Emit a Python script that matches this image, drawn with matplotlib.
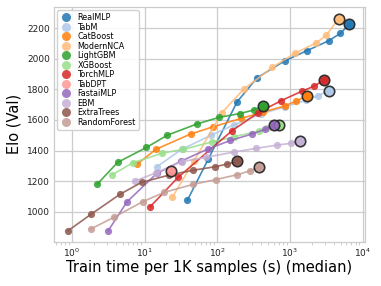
import matplotlib
matplotlib.use("Agg")
import matplotlib.pyplot as plt
from matplotlib.lines import Line2D
import numpy as np

methods = ["RealMLP", "TabM", "CatBoost", "ModernNCA", "LightGBM", "XGBoost",
           "TorchMLP", "TabDPT", "FastaiMLP", "EBM", "ExtraTrees", "RandomForest"]
colors = ["#1f77b4", "#aec7e8", "#ff7f0e", "#ffbb78", "#2ca02c", "#98df8a",
          "#d62728", "#ff9896", "#9467bd", "#c5b0d5", "#8c564b", "#c49c94"]

realmlp_x = [39, 75, 188, 352, 849, 1727, 3410, 4930, 6607]
realmlp_y = [1076, 1342, 1719, 1875, 1987, 2054, 2118, 2166, 2227]
tabm_x = [14.8, 32.4, 83, 169, 400, 849, 1640, 2455, 3410]
tabm_y = [1294, 1408, 1501, 1567, 1640, 1685, 1728, 1760, 1789]
catboost_x = [8.0, 14.3, 43, 87, 213, 430, 849, 1199, 1695]
catboost_y = [1312, 1408, 1508, 1555, 1610, 1652, 1692, 1722, 1756]
modernnca_x = [24, 48, 116, 233, 575, 1161, 2317, 3177, 4677]
modernnca_y = [1093, 1333, 1648, 1803, 1944, 2035, 2105, 2155, 2262]
lightgbm_x = [2.24, 4.28, 10.6, 20.7, 52, 106, 205, 317, 432]
lightgbm_y = [1181, 1323, 1420, 1501, 1573, 1617, 1642, 1665, 1690]
xgboost_x = [3.55, 6.9, 17.3, 34, 86, 171, 371, 490, 709]
xgboost_y = [1240, 1320, 1382, 1408, 1457, 1490, 1527, 1545, 1566]
torchmlp_x = [12, 29, 160, 369, 748, 1476, 2178, 2917]
torchmlp_y = [1033, 1225, 1530, 1648, 1725, 1789, 1822, 1861]
tabdpt_x = [23]
tabdpt_y = [1268]
fastaimlp_x = [3.17, 5.75, 14.8, 32, 75, 152, 301, 457, 607]
fastaimlp_y = [876, 1065, 1251, 1331, 1411, 1466, 1508, 1539, 1567]
ebm_x = [7.3, 14.5, 32.4, 70, 169, 341, 673, 1026, 1374]
ebm_y = [1200, 1255, 1327, 1356, 1390, 1414, 1436, 1447, 1464]
extratrees_x = [0.89, 1.86, 4.6, 9.1, 22, 46.6, 93, 136, 187]
extratrees_y = [876, 985, 1114, 1192, 1240, 1271, 1294, 1311, 1329]
randomforest_x = [1.82, 3.78, 9.4, 18.8, 47, 95, 190, 286, 379]
randomforest_y = [887, 963, 1065, 1127, 1179, 1210, 1242, 1268, 1294]

series = [(realmlp_x, realmlp_y), (tabm_x, tabm_y), (catboost_x, catboost_y),
          (modernnca_x, modernnca_y), (lightgbm_x, lightgbm_y), (xgboost_x, xgboost_y),
          (torchmlp_x, torchmlp_y), (tabdpt_x, tabdpt_y), (fastaimlp_x, fastaimlp_y),
          (ebm_x, ebm_y), (extratrees_x, extratrees_y), (randomforest_x, randomforest_y)]

fig = plt.figure(figsize=(3.81, 2.86), dpi=100)
ax = fig.add_axes([0.142, 0.154, 0.816, 0.822])
ax.set_facecolor("white")

for (xs, ys), c in zip(series, colors):
    ax.plot(xs, ys, color=c, lw=1.2, marker="o", ms=5.2, mec="none", alpha=0.85, zorder=2)
for (xs, ys), c in zip(series, colors):
    ax.plot([xs[-1]], [ys[-1]], marker="o", ms=7.5, color=c, mec="#222222", mew=1.2,
            alpha=0.9, zorder=3, ls="none")

ax.set_xscale("log")
ax.set_xlim(0.57, 10800)
ax.set_ylim(802, 2340)
ax.set_yticks([1000, 1200, 1400, 1600, 1800, 2000, 2200])
ax.grid(True, which="major", color="#cccccc", lw=0.9, zorder=0)
ax.set_axisbelow(True)
for s in ax.spines.values():
    s.set_color("#cccccc")
    s.set_linewidth(0.9)
ax.tick_params(axis="both", which="major", labelsize=6.5, length=0, pad=3, colors="#222222")
ax.tick_params(axis="x", which="minor", length=2, width=0.5, color="#bbbbbb")
ax.set_xlabel("Train time per 1K samples (s) (median)", fontsize=10.5, labelpad=1)
ax.set_ylabel("Elo (Val)", fontsize=10.5, labelpad=4)

handles = [Line2D([], [], marker="o", ls="none", ms=6.5, color=c, mec="none", alpha=0.85)
           for c in colors]
leg = ax.legend(handles, methods, loc="upper left", fontsize=5.8, labelspacing=0.06,
                handletextpad=0.8, borderpad=0.4, handlelength=1.3, framealpha=0.9,
                edgecolor="#cccccc", borderaxespad=0.4)

fig.savefig("out.png", dpi=100)
